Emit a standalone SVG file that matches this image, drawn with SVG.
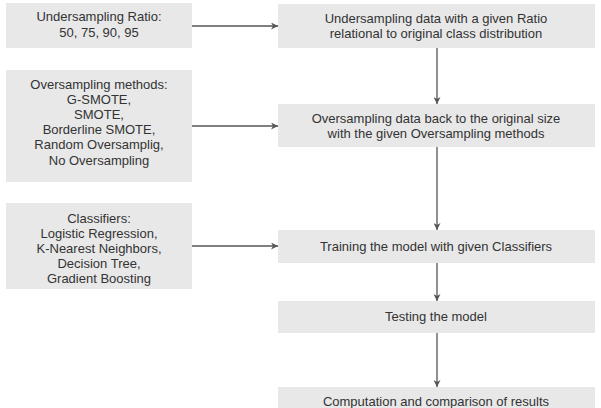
<svg xmlns="http://www.w3.org/2000/svg" width="601" height="408" viewBox="0 0 601 408">
<defs>
<style>
.box{fill:#e8e8e8;stroke:none}
.t{font-family:"Liberation Sans",Arial,sans-serif;font-size:13px;fill:#333;text-anchor:middle}
.c{stroke:#555;stroke-width:1.3;fill:none;marker-end:url(#ah)}
</style>
<marker id="ah" viewBox="0 0 10 10" refX="10" refY="5" markerWidth="7" markerHeight="7" markerUnits="userSpaceOnUse" orient="auto">
<path d="M0,0 L10,5 L0,10 L3,5 Z" fill="#555"/>
</marker>
</defs>
<rect width="601" height="408" fill="#fff"/>
<g id="n-ratio"><rect class="box" x="6" y="3" width="186" height="45"/>
<text class="t" x="99" y="21">Undersampling Ratio:</text>
<text class="t" x="99" y="37">50, 75, 90, 95</text></g>
<g id="n-over"><rect class="box" x="6" y="70" width="186" height="112"/>
<text class="t" x="99" y="89">Oversampling methods:</text>
<text class="t" x="99" y="104">G-SMOTE,</text>
<text class="t" x="99" y="119">SMOTE,</text>
<text class="t" x="99" y="134">Borderline SMOTE,</text>
<text class="t" x="99" y="149">Random Oversamplig,</text>
<text class="t" x="99" y="165">No Oversampling</text></g>
<g id="n-clf"><rect class="box" x="6" y="203" width="186" height="86"/>
<text class="t" x="99" y="223">Classifiers:</text>
<text class="t" x="99" y="238">Logistic Regression,</text>
<text class="t" x="99" y="253">K-Nearest Neighbors,</text>
<text class="t" x="99" y="268">Decision Tree,</text>
<text class="t" x="99" y="283">Gradient Boosting</text></g>
<g id="n-under"><rect class="box" x="278" y="4" width="317" height="44"/>
<text class="t" x="436" y="23">Undersampling data with a given Ratio</text>
<text class="t" x="436" y="38">relational to original class distribution</text></g>
<g id="n-oversample"><rect class="box" x="278" y="104" width="317" height="43"/>
<text class="t" x="436" y="123">Oversampling data back to the original size</text>
<text class="t" x="436" y="138">with the given Oversampling methods</text></g>
<g id="n-train"><rect class="box" x="278" y="230" width="317" height="33"/>
<text class="t" x="436" y="251">Training the model with given Classifiers</text></g>
<g id="n-test"><rect class="box" x="278" y="301" width="317" height="32"/>
<text class="t" x="436" y="321">Testing the model</text></g>
<g id="n-result"><rect class="box" x="278" y="387" width="317" height="30"/>
<text class="t" x="436" y="406">Computation and comparison of results</text></g>
<g id="connectors">
<line class="c" x1="192" y1="26" x2="278" y2="26"/>
<line class="c" x1="192" y1="126" x2="278" y2="126"/>
<line class="c" x1="192" y1="246" x2="278" y2="246"/>
<line class="c" x1="437" y1="48" x2="437" y2="104"/>
<line class="c" x1="437" y1="147" x2="437" y2="230"/>
<line class="c" x1="437" y1="263" x2="437" y2="301"/>
<line class="c" x1="437" y1="333" x2="437" y2="387"/>
</g>
</svg>
